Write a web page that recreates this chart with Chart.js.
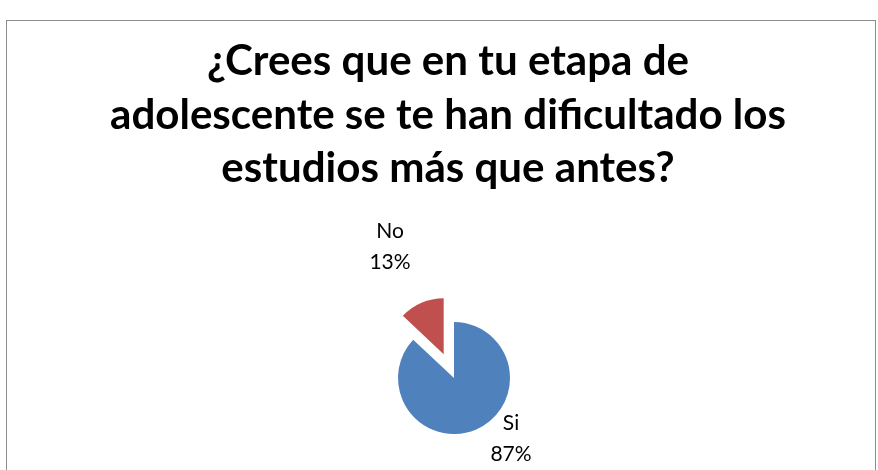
<!DOCTYPE html>
<html>
<head>
<meta charset="utf-8">
<script src="https://cdn.jsdelivr.net/npm/chart.js@4.4.0/dist/chart.umd.min.js"></script>
<style>
  html, body { margin: 0; padding: 0; background: #ffffff; overflow: hidden; }
  #frame { position: absolute; left: 6px; top: 20px; width: 870px; height: 480px; box-sizing: border-box; border: 1.5px solid #8c8c8c; }
  #c { position: absolute; left: 0; top: 0; }
</style>
</head>
<body>
<div id="frame"></div>
<canvas id="c" width="878" height="470"></canvas>
<script>
const categories = ['Si', 'No'];
const values = [87, 13];
const sliceColors = ['#4F81BD', '#C0504D'];
const titleLines = ['¿Crees que en tu etapa de', 'adolescente se te han dificultado los', 'estudios más que antes?'];

const total = values.reduce((a, b) => a + b, 0);
const percentLabels = values.map(v => Math.round(v / total * 100) + '%');

const explodePlugin = {
  id: 'explode',
  afterDatasetUpdate(chart, args, opts) {
    const meta = args.meta;
    meta.data.forEach((arc, i) => {
      const d = (opts.distances || [])[i] || 0;
      if (!d || arc._exploded) return;
      const origDraw = Object.getPrototypeOf(arc).draw;
      arc.draw = function (ctx, area) {
        const mid = (this.startAngle + this.endAngle) / 2;
        ctx.save();
        ctx.translate(Math.cos(mid) * d, Math.sin(mid) * d);
        origDraw.call(this, ctx, area);
        ctx.restore();
      };
      arc._exploded = true;
    });
  }
};

const titlePlugin = {
  id: 'bigTitle',
  afterDraw(chart, args, opts) {
    const ctx = chart.ctx;
    ctx.save();
    let size = 40;
    ctx.font = 'bold ' + size + 'px ' + opts.family;
    const w = ctx.measureText(opts.lines[opts.fitLine]).width;
    size = size * opts.fitWidth / w;
    ctx.font = 'bold ' + size + 'px ' + opts.family;
    ctx.fillStyle = opts.color;
    ctx.textAlign = 'center';
    ctx.textBaseline = 'alphabetic';
    opts.lines.forEach((line, i) => {
      ctx.fillText(line, opts.x, opts.firstBaseline + i * opts.lineGap);
    });
    ctx.restore();
  }
};

const labelPlugin = {
  id: 'sliceLabels',
  afterDraw(chart, args, opts) {
    const ctx = chart.ctx;
    const meta = chart.getDatasetMeta(0);
    ctx.save();
    ctx.font = opts.font;
    ctx.fillStyle = opts.color;
    ctx.textAlign = 'center';
    ctx.textBaseline = 'alphabetic';
    meta.data.forEach((arc, i) => {
      const a = opts.anchors[i];
      const x = arc.x + a.dx;
      const y = arc.y + a.dy;
      ctx.fillText(chart.data.labels[i], x, y);
      ctx.fillText(percentLabels[i], x, y + opts.lineGap);
    });
    ctx.restore();
  }
};

new Chart(document.getElementById('c'), {
  type: 'pie',
  data: {
    labels: categories,
    datasets: [{
      data: values,
      backgroundColor: sliceColors,
      borderWidth: 0,
      radius: 56
    }]
  },
  options: {
    responsive: false,
    devicePixelRatio: 1,
    animation: false,
    events: [],
    layout: { padding: { left: 30, right: 0, top: 286, bottom: 0 } },
    plugins: {
      legend: { display: false },
      tooltip: { enabled: false },
      title: { display: false },
      explode: { distances: [0, 26] },
      bigTitle: {
        lines: titleLines,
        family: 'Lato, "Open Sans", sans-serif',
        color: '#000000',
        x: 448,
        firstBaseline: 75,
        lineGap: 53.5,
        fitLine: 1,
        fitWidth: 676
      },
      sliceLabels: {
        font: '21px Lato, "Open Sans", sans-serif',
        color: '#000000',
        lineGap: 31,
        anchors: [{ dx: 57, dy: 52 }, { dx: -64, dy: -140 }]
      }
    }
  },
  plugins: [explodePlugin, titlePlugin, labelPlugin]
});
</script>
</body>
</html>
